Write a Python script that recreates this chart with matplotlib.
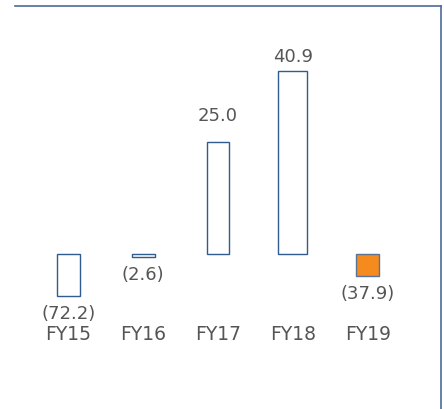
import matplotlib.pyplot as plt

years = ["FY15", "FY16", "FY17", "FY18", "FY19"]
value_labels = ["(72.2)", "(2.6)", "25.0", "40.9", "(37.9)"]
# drawn bar lengths (negatives are compressed in the source)
bar_heights = [-9.3, -0.6, 25.1, 40.9, -4.85]

navy = "#2F5B8E"
orange = "#F58A1F"
grey_text = "#555555"

fig = plt.figure(figsize=(4.44, 4.10), dpi=100)
ax = fig.add_axes([15 / 444, 0, 426 / 444, 403 / 410])

x = list(range(len(years)))
widths = [0.307, 0.307, 0.307, 0.387, 0.307]
faces = ["white", "white", "white", "white", orange]
edges = [navy, navy, navy, navy, "#5A7293"]
ax.bar(x, bar_heights, width=widths, color=faces, edgecolor=edges, linewidth=1.0)

# value labels: above positive bars, below negative ones
above = {2: 27, 3: 15}
for i, (h, lab) in enumerate(zip(bar_heights, value_labels)):
    if h >= 0:
        off = above.get(i, 15)
    else:
        off = -17
    ax.annotate(lab, (i, h), xytext=(0, off * 0.72), textcoords="offset points",
                ha="center", va="center", fontsize=13, color=grey_text)

for i, yr in enumerate(years):
    ax.text(i, -17.7, yr, ha="center", va="center", fontsize=13.5, color=grey_text)

ax.set_xlim(-0.712, 4.979)
ax.set_ylim(-34.5, 55.47)
ax.set_xticks([])
ax.set_yticks([])
for side in ["left", "bottom"]:
    ax.spines[side].set_visible(False)
for side in ["top", "right"]:
    ax.spines[side].set_color("#4A6C98")
    ax.spines[side].set_linewidth(1.2)

fig.savefig("out.png", dpi=100)
